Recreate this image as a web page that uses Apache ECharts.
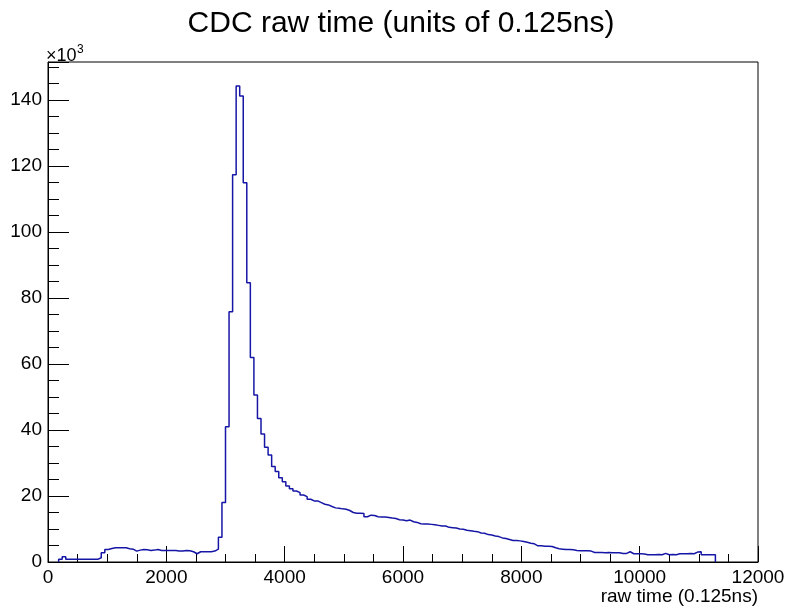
<!DOCTYPE html>
<html><head><meta charset="utf-8">
<script src="https://cdn.jsdelivr.net/npm/echarts@6/dist/echarts.min.js"></script>
<style>html,body{margin:0;padding:0;background:#fff}#c{width:788px;height:609px}</style>
</head><body><div id="c"></div>
<script>
const titleText = 'CDC raw time (units of 0.125ns)';
const xTitle = 'raw time (0.125ns)';
const yScaleLabel = '×10';
const yScaleExp = '3';
const binWidth = 60;
const firstBinStart = 180;
// bin contents in units of 10^3, bins of width 60 starting at 180
const countsK = [
  0.8, 1.6, 0.8, 0.8, 0.8, 0.8, 0.8, 0.8, 0.8, 0.8, 0.8,
  1.3, 2.8, 3.8, 4.1, 4.3, 4.3, 4.3, 4.3, 4.0, 3.9,
  3.3, 3.6, 3.8, 3.7, 3.5, 3.6, 3.8, 3.5, 3.5, 3.5,
  3.5, 3.5, 3.3, 3.3, 3.5, 3.4, 3.1, 2.5, 3.1, 3.1,
  3.1, 3.1, 3.3, 3.9, 7.5, 18.0, 41.0, 75.8, 117.3, 144.2,
  141.2, 114.9, 84.6, 62.0, 50.6, 43.5, 38.8, 34.8, 32.4, 28.9,
  27.4, 25.5, 24.3, 23.0, 22.2, 21.5, 21.0, 20.3, 19.8, 19.0,
  18.5, 18.5, 18.0, 17.5, 17.3, 16.8, 16.4, 16.3, 16.1, 16.0,
  15.6, 15.0, 14.8, 14.8, 14.7, 13.7, 14.2, 14.1, 13.7, 13.6,
  13.6, 13.5, 13.3, 13.2, 12.8, 12.7, 12.5, 12.7, 12.2, 12.0,
  11.6, 11.5, 11.5, 11.4, 11.3, 11.1, 10.9, 10.9, 10.5, 10.4,
  10.3, 10.0, 9.9, 9.6, 9.5, 9.3, 9.2, 8.8, 8.7, 8.3,
  8.2, 7.9, 7.7, 7.3, 7.1, 6.8, 6.5, 6.5, 6.4, 6.2,
  6.0, 5.7, 5.5, 4.9, 4.9, 4.8, 4.8, 4.7, 4.3, 4.0,
  3.9, 3.8, 3.8, 3.7, 3.5, 3.4, 3.4, 3.4, 3.3, 2.9,
  2.9, 2.9, 2.8, 2.9, 2.8, 2.8, 2.8, 2.6, 2.6, 3.1,
  2.5, 2.5, 2.5, 2.4, 2.2, 2.2, 2.2, 2.3, 2.2, 2.6,
  2.2, 2.3, 2.2, 2.5, 2.5, 2.5, 2.6, 2.5, 3.0, 3.1,
  2.2, 2.2, 2.2, 2.2
];
const xMin = 0, xMax = 12000, xStep = 2000;
const yMin = 0, yMax = 151.5, yStep = 20, yMinorStep = 5;

const FONT = '"Liberation Sans", Arial, Helvetica, sans-serif';
const pts = [[firstBinStart, 0]];
countsK.forEach((v, i) => pts.push([firstBinStart + i * binWidth, v]));
const endX = firstBinStart + countsK.length * binWidth;
pts.push([endX, countsK[countsK.length - 1]]);
pts.push([endX, 0]);

const chart = echarts.init(document.getElementById('c'), null, {renderer: 'canvas'});
chart.setOption({
  animation: false,
  backgroundColor: '#fff',
  grid: {left: 48, right: 30, top: 62, bottom: 47, show: true, borderColor: '#000', borderWidth: 1, backgroundColor: 'transparent'},
  xAxis: {
    type: 'value', min: xMin, max: xMax, interval: xStep,
    axisLine: {lineStyle: {color: '#000', width: 1}},
    axisTick: {inside: true, length: 16, lineStyle: {color: '#000', width: 1}},
    minorTick: {show: true, splitNumber: 4, length: 8, lineStyle: {color: '#000', width: 1}},
    splitLine: {show: false},
    axisLabel: {color: '#000', fontSize: 19, fontFamily: FONT, margin: 6, formatter: v => String(v)}
  },
  yAxis: [{
    type: 'value', min: yMin, max: yMax, interval: yStep, position: 'left',
    axisLine: {show: true, lineStyle: {color: '#000', width: 1}},
    axisTick: {inside: true, length: 21, lineStyle: {color: '#000', width: 1}},
    splitLine: {show: false},
    axisLabel: {color: '#000', fontSize: 19, fontFamily: FONT, margin: 6,
      formatter: v => (Math.abs(v % yStep) < 1e-9 ? String(v) : '')}
  }, {
    type: 'value', min: yMin, max: yMax, interval: yMinorStep, position: 'left', offset: 0,
    axisLine: {show: false},
    axisTick: {show: true, inside: true, length: 11, lineStyle: {color: '#000', width: 1}},
    splitLine: {show: false},
    axisLabel: {show: false}
  }],
  series: [{
    type: 'line', step: 'end', symbol: 'none', yAxisIndex: 0,
    lineStyle: {color: '#1616a6', width: 1.5},
    data: pts, clip: true
  }],
  graphic: [
    {type: 'text', x: 401, y: 24, style: {text: titleText, fontSize: 30, fontFamily: FONT, fill: '#000', align: 'center', verticalAlign: 'middle'}},
    {type: 'text', x: 758, y: 597, style: {text: xTitle, fontSize: 19, fontFamily: FONT, fill: '#000', align: 'right', verticalAlign: 'middle'}},
    {type: 'text', x: 46, y: 56, style: {text: yScaleLabel, fontSize: 18, fontFamily: FONT, fill: '#000', align: 'left', verticalAlign: 'middle'}},
    {type: 'text', x: 77, y: 50, style: {text: yScaleExp, fontSize: 12, fontFamily: FONT, fill: '#000', align: 'left', verticalAlign: 'middle'}}
  ]
});
</script></body></html>
